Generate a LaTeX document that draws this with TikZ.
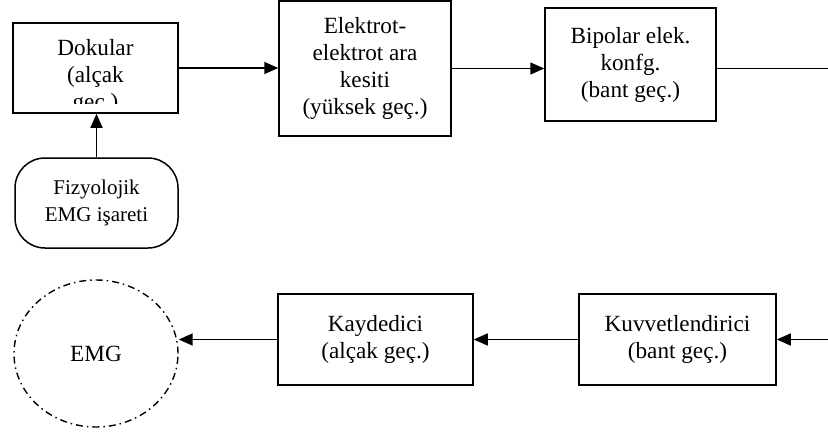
\documentclass[tikz,border=0pt]{standalone}
\usepackage{fontspec}
\setmainfont{Liberation Serif}
\usetikzlibrary{arrows.meta,shapes.geometric}
\begin{document}
\begin{tikzpicture}[x=1pt,y=-1pt,
  font=\fontsize{23.2}{27}\selectfont,
  box/.style={draw, line width=1.5pt, align=center, inner sep=0pt},
  arr/.style={-{Triangle[length=14pt,width=12pt]}, line width=1.6pt},
  plain/.style={line width=1.6pt}]
\useasboundingbox (0,0) rectangle (828,436);
% top row
\node[box, minimum width=165pt, minimum height=90pt] (dok) at (95.5,68) {};
\begin{scope}
  \clip (dok.north west) rectangle ([yshift=10pt]dok.south east);
  \node[align=center, inner sep=0pt] (doktext) at (95.5,77) {Dokular\\(alçak\\geç.)};
\end{scope}
\node[box, minimum width=172pt, minimum height=135pt] (ele) at (365,68.5)
  {Elektrot-\\elektrot ara\\kesiti\\(yüksek geç.)};
\node[box, minimum width=171pt, minimum height=113pt] (bip) at (630.5,64.5)
  {Bipolar elek.\\konfg.\\(bant geç.)};
\node[box, rounded corners=30pt, minimum width=163pt, minimum height=90pt] (fiz) at (96.5,203)
  {\fontsize{21}{27}\selectfont Fizyolojik\\\fontsize{21}{27}\selectfont EMG işareti};
% bottom row
\node[draw, ellipse, line width=1.4pt, dash pattern=on 7pt off 4pt on 1.5pt off 4pt,
  minimum width=164pt, minimum height=147pt, inner sep=0pt] (emg) at (96,353.5) {EMG};
\node[box, minimum width=195pt, minimum height=91pt] (kay) at (375.5,339.5)
  {Kaydedici\\(alçak geç.)};
\node[box, minimum width=197pt, minimum height=91pt] (kuv) at (677.5,339.5)
  {Kuvvetlendirici\\(bant geç.)};
\coordinate (r1) at (828,68.5);
\coordinate (r2) at (828,339.5);
% connectors
\draw[arr] (dok.east) -- (ele.west |- dok.east);
\draw[arr] (ele.east |- r1) -- (bip.west |- r1);
\draw[plain] (bip.east |- r1) -- (r1);
\draw[arr] (fiz.north) -- (fiz.north |- dok.south);
\draw[arr] (r2) -- (kuv.east);
\draw[arr] (kuv.west) -- (kay.east);
\draw[arr] (kay.west) -- (kay.west -| emg.east);
\end{tikzpicture}
\end{document}
